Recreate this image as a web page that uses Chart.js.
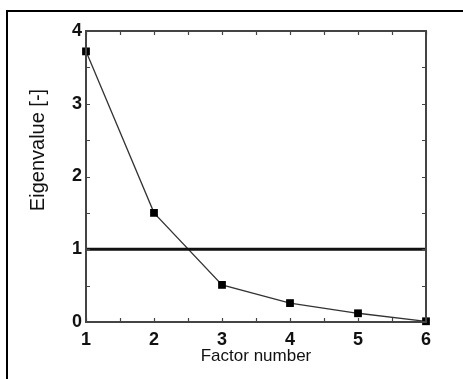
<!DOCTYPE html>
<html>
<head>
<meta charset="utf-8">
<script src="https://cdn.jsdelivr.net/npm/chart.js@4.4.0/dist/chart.umd.min.js"></script>
<style>
body{margin:0;background:#fff}
#wrap{position:relative;width:463px;height:379px;overflow:hidden}
#frame{position:absolute;left:6px;top:10px;width:600px;height:600px;border-left:2px solid #000;border-top:2px solid #000}
canvas{position:absolute;left:0;top:0}
</style>
</head>
<body>
<div id="wrap"><div id="frame"></div><canvas id="myChart" width="463" height="379"></canvas></div>
<script>
var factors = [1, 2, 3, 4, 5, 6];
var eigenvalues = [3.72, 1.5, 0.51, 0.26, 0.12, 0.01];
var cutoff = 1;
var xLabel = 'Factor number';
var yLabel = 'Eigenvalue [-]';

// inward ticks + box around the plot, and the rotated y title
const boxPlugin = {
    id: 'box',
    afterDraw(chart) {
        const c = chart.ctx;
        const a = chart.chartArea;
        const xs = chart.scales.x, ys = chart.scales.y;
        c.save();
        c.strokeStyle = '#444';
        c.lineWidth = 2;
        c.strokeRect(a.left, a.top, a.right - a.left, a.bottom - a.top);
        c.lineWidth = 1.2;
        c.beginPath();
        xs.ticks.forEach(function (t) {
            const px = Math.round(xs.getPixelForValue(t.value)) + 0.5;
            c.moveTo(px, a.bottom); c.lineTo(px, a.bottom - 4);
            c.moveTo(px, a.top); c.lineTo(px, a.top + 4);
        });
        ys.ticks.forEach(function (t) {
            const py = Math.round(ys.getPixelForValue(t.value)) + 0.5;
            c.moveTo(a.left, py); c.lineTo(a.left + 4, py);
            c.moveTo(a.right, py); c.lineTo(a.right - 4, py);
        });
        c.stroke();

        c.fillStyle = '#111';
        c.font = '20px "Liberation Sans", Arial, sans-serif';
        c.textAlign = 'center';
        c.textBaseline = 'middle';
        c.translate(a.left - 48, a.top + 119);
        c.rotate(-Math.PI / 2);
        c.fillText(yLabel, 0, 0);
        c.restore();
    }
};

const tickFont = { family: '"Liberation Sans", Arial, sans-serif', size: 18, weight: 'bold' };

const ctx = document.getElementById('myChart').getContext('2d');
const myChart = new Chart(ctx, {
    type: 'line',
    data: {
        datasets: [{
            label: 'cutoff',
            data: factors.map(function (f) { return { x: f, y: cutoff }; }),
            borderColor: '#111',
            borderWidth: 3,
            pointRadius: 0
        }, {
            label: 'Eigenvalue',
            data: factors.map(function (f, i) { return { x: f, y: eigenvalues[i] }; }),
            borderColor: '#333',
            borderWidth: 1.3,
            pointStyle: 'rect',
            pointRadius: 5.5,
            pointBackgroundColor: '#000',
            pointBorderColor: '#000',
            pointBorderWidth: 0,
            clip: 5
        }]
    },
    options: {
        responsive: false,
        animation: false,
        layout: { padding: { left: 0, top: 31, right: 37, bottom: 0 } },
        plugins: { legend: { display: false }, tooltip: { enabled: false } },
        scales: {
            x: {
                type: 'linear',
                min: 1,
                max: 6,
                grid: { display: false },
                border: { display: false },
                afterFit: function (s) { s.height = 57; },
                ticks: {
                    stepSize: 0.5,
                    autoSkip: false,
                    maxRotation: 0,
                    padding: -1,
                    color: '#111',
                    font: tickFont,
                    callback: function (v) { return Number.isInteger(v) ? v : ''; }
                },
                title: {
                    display: true,
                    text: xLabel,
                    color: '#111',
                    padding: { top: 0, bottom: 12 },
                    font: { family: '"Liberation Sans", Arial, sans-serif', size: 17 }
                }
            },
            y: {
                min: 0,
                max: 4,
                grid: { display: false },
                border: { display: false },
                afterFit: function (s) { s.width = 86; },
                ticks: {
                    stepSize: 0.5,
                    autoSkip: false,
                    padding: -4,
                    color: '#111',
                    font: tickFont,
                    callback: function (v) { return Number.isInteger(v) ? v : ''; }
                }
            }
        }
    },
    plugins: [boxPlugin]
});
</script>
</body>
</html>
